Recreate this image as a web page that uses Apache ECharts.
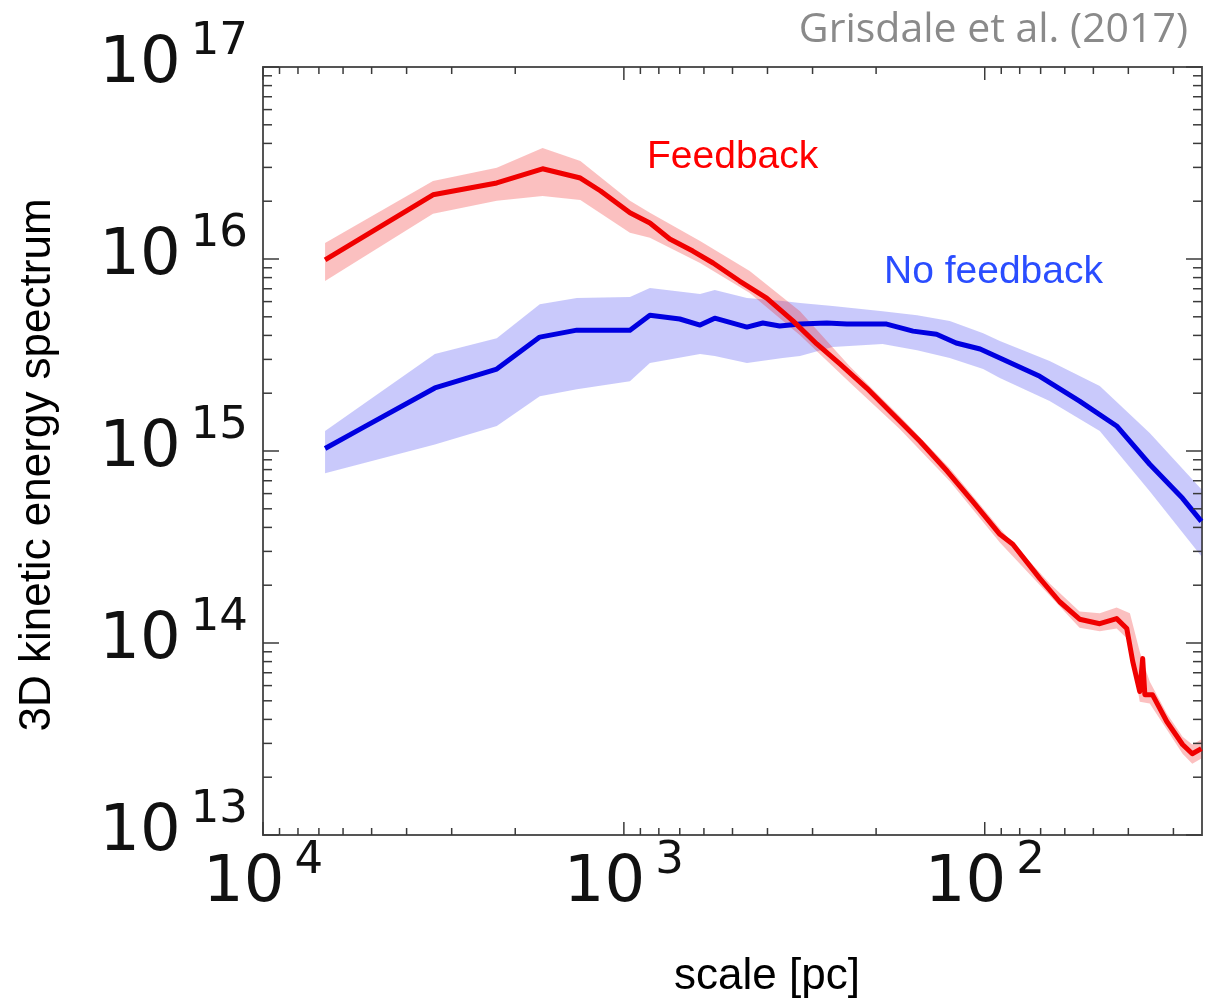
<!DOCTYPE html>
<html><head><meta charset="utf-8">
<script src="https://cdn.jsdelivr.net/npm/echarts@6/dist/echarts.min.js"></script>
<style>html,body{margin:0;padding:0;background:#fff}#c{width:1214px;height:1008px}</style>
</head><body><div id="c"></div>
<script>
// ---- Feedback (red) mean curve: scale [pc], energy ----
const fbScale = [6730, 3380, 2250, 1680, 1320, 1160, 962, 847, 746, 644, 566, 478, 402, 340, 292, 252, 212, 180, 151, 127, 108, 90.8, 83.6, 70.4, 62.0, 54.6, 48.0, 43.1, 40.4, 38.9, 37.2, 36.5, 36.0, 34.3, 31.3, 28.3, 26.6, 25.1];
const fbEnergy = [9.89e15, 2.16e16, 2.49e16, 2.95e16, 2.64e16, 2.26e16, 1.74e16, 1.54e16, 1.27e16, 1.10e16, 9.53e15, 7.68e15, 6.26e15, 4.76e15, 3.61e15, 2.84e15, 2.12e15, 1.56e15, 1.12e15, 7.84e14, 5.47e14, 3.68e14, 3.27e14, 2.17e14, 1.64e14, 1.33e14, 1.26e14, 1.34e14, 1.19e14, 8.02e13, 5.59e13, 8.30e13, 5.38e13, 5.38e13, 3.90e13, 2.96e13, 2.65e13, 2.82e13];
// ---- Feedback spread band ----
const fbBandScale = [6730, 3380, 2250, 1680, 1320, 962, 847, 615, 448, 325, 237, 172, 125, 90.8, 66.1, 54.6, 48.0, 43.1, 39.6, 37.2, 34.9, 31.3, 28.3, 26.6, 25.1];
const fbUpper = [1.21e16, 2.55e16, 2.99e16, 3.79e16, 3.24e16, 2.01e16, 1.74e16, 1.24e16, 8.66e15, 5.35e15, 2.77e15, 1.52e15, 8.13e14, 3.95e14, 2.04e14, 1.46e14, 1.43e14, 1.53e14, 1.43e14, 9.03e13, 6.30e13, 4.29e13, 3.25e13, 2.96e13, 3.14e13];
const fbLower = [7.68e15, 1.72e16, 2.01e16, 2.13e16, 2.03e16, 1.37e16, 1.29e16, 9.53e15, 6.65e15, 4.01e15, 2.28e15, 1.30e15, 6.96e14, 3.34e14, 1.77e14, 1.20e14, 1.15e14, 1.19e14, 1.02e14, 4.95e13, 4.84e13, 3.54e13, 2.65e13, 2.35e13, 2.50e13];

// ---- No feedback (blue) mean curve ----
const nfScale = [6730, 5380, 3340, 2250, 1710, 1350, 962, 847, 700, 615, 560, 456, 412, 370, 325, 274, 241, 212, 187, 158, 136, 120, 103, 90.8, 70.4, 54.6, 43.1, 34.9, 28.3, 25.1];
const nfEnergy = [1.03e15, 1.30e15, 2.13e15, 2.67e15, 3.92e15, 4.26e15, 4.26e15, 5.10e15, 4.87e15, 4.53e15, 4.92e15, 4.42e15, 4.64e15, 4.48e15, 4.58e15, 4.64e15, 4.58e15, 4.58e15, 4.58e15, 4.21e15, 4.06e15, 3.65e15, 3.40e15, 3.05e15, 2.45e15, 1.82e15, 1.35e15, 8.53e14, 5.67e14, 4.30e14];
// ---- No feedback spread band ----
const nfBandScale = [6730, 3340, 2250, 1710, 1350, 962, 847, 615, 560, 456, 363, 325, 264, 192, 154, 125, 101, 90.8, 66.1, 48.0, 34.9, 25.1];
const nfUpper = [1.27e15, 3.20e15, 3.87e15, 5.82e15, 6.26e15, 6.34e15, 7.06e15, 6.57e15, 6.89e15, 6.26e15, 6.04e15, 5.90e15, 5.69e15, 5.35e15, 5.10e15, 4.75e15, 4.11e15, 3.74e15, 2.94e15, 2.18e15, 1.24e15, 6.32e14];
const nfLower = [7.66e14, 1.08e15, 1.35e15, 1.93e15, 2.10e15, 2.31e15, 2.87e15, 3.20e15, 3.12e15, 2.87e15, 3.05e15, 3.12e15, 3.48e15, 3.61e15, 3.35e15, 3.05e15, 2.67e15, 2.40e15, 1.82e15, 1.27e15, 6.17e14, 2.83e14];

// ---- axis ranges and ticks ----
const xRange = [25, 10000];
const yRange = [1e13, 1e17];
const xMajorTicks = [100, 1000, 10000];
const xMinorTicks = [30, 40, 50, 60, 70, 80, 90, 200, 300, 400, 500, 600, 700, 800, 900, 2000, 3000, 4000, 5000, 6000, 7000, 8000, 9000];
const yMajorTicks = [1e13, 1e14, 1e15, 1e16, 1e17];
const yMinorTicks = [2e13, 3e13, 4e13, 5e13, 6e13, 7e13, 8e13, 9e13, 2e14, 3e14, 4e14, 5e14, 6e14, 7e14, 8e14, 9e14, 2e15, 3e15, 4e15, 5e15, 6e15, 7e15, 8e15, 9e15, 2e16, 3e16, 4e16, 5e16, 6e16, 7e16, 8e16, 9e16];

const TICK = '#3a3a3a';
function xTickSeries(values, len) {
  return {
    type: 'custom', silent: true, clip: false, z: 6,
    data: values.map(v => [v]), encode: { x: 0 },
    renderItem(params, api) {
      const cs = params.coordSys;
      const px = api.coord([api.value(0), yRange[0]])[0];
      const b = cs.y + cs.height, t = cs.y;
      return { type: 'group', children: [
        { type: 'line', shape: { x1: px, y1: b, x2: px, y2: b - len }, style: { stroke: TICK, lineWidth: 1.5 } },
        { type: 'line', shape: { x1: px, y1: t, x2: px, y2: t + len }, style: { stroke: TICK, lineWidth: 1.5 } }
      ]};
    }
  };
}
function yTickSeries(values, len) {
  return {
    type: 'custom', silent: true, clip: false, z: 6,
    data: values.map(v => [v]), encode: { y: 0 },
    renderItem(params, api) {
      const cs = params.coordSys;
      const py = api.coord([xRange[1], api.value(0)])[1];
      const l = cs.x, r = cs.x + cs.width;
      return { type: 'group', children: [
        { type: 'line', shape: { x1: l, y1: py, x2: l + len, y2: py }, style: { stroke: TICK, lineWidth: 1.5 } },
        { type: 'line', shape: { x1: r, y1: py, x2: r - len, y2: py }, style: { stroke: TICK, lineWidth: 1.5 } }
      ]};
    }
  };
}
function bandSeries(xs, lo, hi, color, z) {
  return {
    type: 'custom', silent: true, clip: true, z: z,
    data: xs.map((x, i) => [x, lo[i], hi[i]]), encode: { x: 0, y: [1, 2] },
    renderItem(params, api) {
      if (params.dataIndex !== 0) return null;
      const pts = [];
      for (let i = 0; i < xs.length; i++) pts.push(api.coord([xs[i], hi[i]]));
      for (let i = xs.length - 1; i >= 0; i--) pts.push(api.coord([xs[i], lo[i]]));
      return { type: 'polygon', shape: { points: pts }, style: { fill: color } };
    }
  };
}
function powLabel(v) {
  const e = Math.log10(v), r = Math.round(e);
  if (Math.abs(e - r) > 1e-6) return '';
  return '{b|10}{s|' + r + '}';
}
const rich = {
  b: { fontFamily: 'DejaVu Sans', fontSize: 64, lineHeight: 64, color: '#111', verticalAlign: 'bottom', padding: [0, 0, 20, 0] },
  s: { fontFamily: 'DejaVu Sans', fontSize: 45, lineHeight: 45, color: '#111', verticalAlign: 'bottom', padding: [0, 0, 52, 10] }
};

const chart = echarts.init(document.getElementById('c'), null, { renderer: 'canvas' });
chart.setOption({
  animation: false,
  backgroundColor: '#fff',
  grid: { left: 263, right: 12, top: 67, bottom: 173, show: true, borderColor: '#555', borderWidth: 2, backgroundColor: 'transparent' },
  xAxis: {
    type: 'log', logBase: 10, inverse: true, min: xRange[0], max: xRange[1],
    axisLine: { show: false }, axisTick: { show: false }, splitLine: { show: false }, minorTick: { show: false },
    axisLabel: { margin: 37, showMinLabel: true, showMaxLabel: true, formatter: powLabel, rich: rich }
  },
  yAxis: {
    type: 'log', logBase: 10, min: yRange[0], max: yRange[1],
    axisLine: { show: false }, axisTick: { show: false }, splitLine: { show: false }, minorTick: { show: false },
    axisLabel: { margin: 15, padding: [36, 0, 0, 0], showMinLabel: true, showMaxLabel: true, formatter: powLabel, rich: rich }
  },
  series: [
    bandSeries(nfBandScale, nfLower, nfUpper, 'rgba(40,40,240,0.25)', 1),
    bandSeries(fbBandScale, fbLower, fbUpper, 'rgba(240,30,30,0.28)', 2),
    { type: 'line', name: 'No feedback', z: 3, showSymbol: false, silent: true,
      data: nfScale.map((x, i) => [x, nfEnergy[i]]),
      lineStyle: { color: '#0000e0', width: 5, join: 'round' } },
    { type: 'line', name: 'Feedback', z: 4, showSymbol: false, silent: true,
      data: fbScale.map((x, i) => [x, fbEnergy[i]]),
      lineStyle: { color: '#f00000', width: 5, join: 'round' } },
    xTickSeries(xMajorTicks, 13),
    xTickSeries(xMinorTicks, 7),
    yTickSeries(yMajorTicks, 16),
    yTickSeries(yMinorTicks, 9)
  ],
  graphic: [
    { type: 'text', x: 1188, y: 30, style: { text: 'Grisdale et al. (2017)', font: '41px "Open Sans"', fill: '#8a8a8a', align: 'right', verticalAlign: 'middle' } },
    { type: 'text', x: 647, y: 157, style: { text: 'Feedback', font: '39px "Liberation Sans"', fill: '#ff0000', align: 'left', verticalAlign: 'middle' } },
    { type: 'text', x: 884, y: 272, style: { text: 'No feedback', font: '39px "Liberation Sans"', fill: '#2a4dff', align: 'left', verticalAlign: 'middle' } },
    { type: 'text', x: 767, y: 977, style: { text: 'scale [pc]', font: '44px "Liberation Sans"', fill: '#000', align: 'center', verticalAlign: 'middle' } },
    { type: 'text', x: 38, y: 465, rotation: Math.PI / 2, style: { text: '3D kinetic energy spectrum', font: '44px "Liberation Sans"', fill: '#000', align: 'center', verticalAlign: 'middle' } }
  ]
});
</script></body></html>
